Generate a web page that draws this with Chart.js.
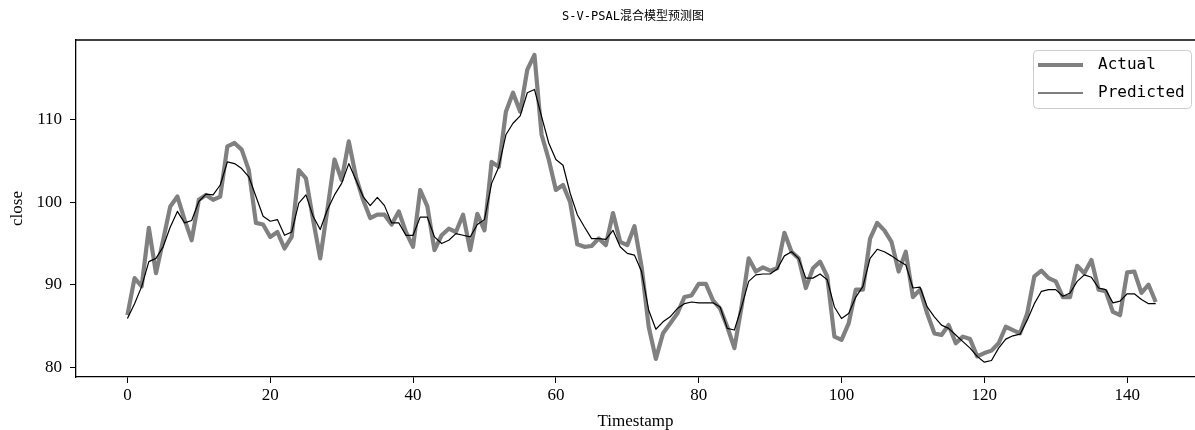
<!DOCTYPE html>
<html><head><meta charset="utf-8">
<script src="https://cdn.jsdelivr.net/npm/chart.js@4.4.0/dist/chart.umd.min.js"></script>
<style>html,body{margin:0;padding:0;background:#fff;}#wrap{width:1195px;height:430px;}</style>
</head><body><div id="wrap"><canvas id="c" width="1195" height="430"></canvas></div>
<script>
const chartTitle = 'S-V-PSAL混合模型预测图';
const xAxisTitle = 'Timestamp';
const yAxisTitle = 'close';
const seriesNames = ['Actual', 'Predicted'];
const xTicks = [0, 20, 40, 60, 80, 100, 120, 140];
const yTicks = [80, 90, 100, 110];
const timestamps = [
  0,1,2,3,4,5,6,7,8,9,10,11,12,13,14,15,16,17,18,19,
  20,21,22,23,24,25,26,27,28,29,30,31,32,33,34,35,36,37,38,39,
  40,41,42,43,44,45,46,47,48,49,50,51,52,53,54,55,56,57,58,59,
  60,61,62,63,64,65,66,67,68,69,70,71,72,73,74,75,76,77,78,79,
  80,81,82,83,84,85,86,87,88,89,90,91,92,93,94,95,96,97,98,99,
  100,101,102,103,104,105,106,107,108,109,110,111,112,113,114,115,116,117,118,119,
  120,121,122,123,124,125,126,127,128,129,130,131,132,133,134,135,136,137,138,139,
  140,141,142,143,144
];
const actual = [
  86.3,90.8,89.8,96.9,91.4,95.4,99.5,100.7,97.9,95.4,
  100.3,100.9,100.3,100.7,106.8,107.2,106.4,103.9,97.5,97.3,
  95.8,96.4,94.4,95.8,103.9,102.9,97.9,93.2,99.1,105.2,
  102.7,107.4,103.1,100.3,98.1,98.5,98.5,97.3,98.9,96.4,
  94.6,101.5,99.5,94.2,96.0,96.8,96.4,98.5,94.2,98.6,
  96.6,104.9,104.3,111.0,113.3,111.0,116.1,117.9,108.2,105.2,
  101.5,102.1,100.0,94.9,94.6,94.7,95.6,94.8,98.7,95.2,
  94.8,97.1,92.2,84.9,81.0,84.1,85.3,86.5,88.5,88.7,
  90.1,90.1,88.1,87.1,84.9,82.3,87.3,93.2,91.6,92.1,
  91.7,92.0,96.3,94.0,93.2,89.6,92.0,92.8,91.0,83.7,
  83.3,85.3,89.4,89.4,95.6,97.5,96.6,95.2,91.6,94.0,
  88.5,89.4,86.5,84.1,83.9,85.1,82.9,83.7,83.4,81.3,
  81.7,82.0,82.9,84.9,84.5,84.1,86.5,91.0,91.7,90.8,
  90.4,88.5,88.5,92.3,91.4,93.0,89.4,89.2,86.7,86.3,
  91.5,91.6,89.0,90.0,87.9
];
const predicted = [
  85.9,87.7,89.8,92.8,93.2,94.6,97.0,98.9,97.5,97.8,
  100.1,101.0,100.9,102.1,104.9,104.7,104.1,103.1,100.7,98.3,
  97.7,97.9,96.0,96.4,99.9,100.9,98.3,96.7,99.1,100.9,
  102.3,104.7,102.7,100.7,99.6,100.6,99.6,97.5,97.5,96.0,
  96.0,98.2,98.2,95.8,95.0,95.4,96.2,96.0,95.8,97.3,
  97.9,102.3,104.3,108.2,109.6,110.5,113.3,113.7,110.4,107.2,
  105.2,104.5,101.1,98.5,97.0,95.6,95.6,95.5,96.6,94.6,
  93.8,93.6,91.6,86.9,84.6,85.5,86.1,87.1,87.7,87.9,
  87.8,87.8,87.8,87.3,84.7,84.5,87.3,90.4,91.2,91.3,
  91.3,91.9,93.5,94.0,93.2,90.8,90.8,91.3,90.6,87.3,
  85.9,86.5,88.5,89.8,93.2,94.3,94.0,93.5,92.9,92.4,
  89.6,89.7,87.3,86.1,85.1,84.7,83.9,83.1,82.3,81.3,
  80.6,80.8,82.3,83.4,83.8,84.0,85.7,87.7,89.2,89.4,
  89.4,88.6,89.0,90.4,91.2,90.9,89.6,89.4,87.8,88.0,
  88.9,88.9,88.2,87.7,87.7
];

const toPoints = arr => timestamps.map((t, i) => ({x: t, y: arr[i]}));

const serif = "'Liberation Serif', 'Times New Roman', serif";
const mono = "'DejaVu Sans Mono', 'Noto Sans CJK SC', monospace";

const framePlugin = {
  id: 'frame',
  afterDraw(chart) {
    const {ctx, chartArea: a} = chart;
    ctx.save();
    // top spine
    ctx.strokeStyle = '#000';
    ctx.lineWidth = 1.3;
    ctx.beginPath();
    ctx.moveTo(a.left, a.top);
    ctx.lineTo(a.right, a.top);
    ctx.stroke();
    // title
    ctx.fillStyle = '#000';
    ctx.font = "12px " + "'DejaVu Sans Mono', 'Noto Sans CJK SC', sans-serif";
    ctx.textAlign = 'center';
    ctx.textBaseline = 'middle';
    ctx.fillText(chartTitle, 633, 17);
    // legend
    const bx = 1033, by = 50, bw = 158, bh = 58;
    ctx.fillStyle = 'rgba(255,255,255,0.8)';
    ctx.strokeStyle = '#cccccc';
    ctx.lineWidth = 1;
    ctx.beginPath();
    ctx.roundRect(bx + 0.5, by + 0.5, bw, bh, 4);
    ctx.fill();
    ctx.stroke();
    ctx.font = "16px " + mono;
    ctx.textAlign = 'left';
    chart.data.datasets.forEach((ds, i) => {
      const yy = by + 15 + i * 28;
      ctx.strokeStyle = ds.borderColor;
      ctx.lineWidth = ds.borderWidth;
      ctx.beginPath();
      ctx.moveTo(bx + 5, yy);
      ctx.lineTo(bx + 50, yy);
      ctx.stroke();
      ctx.fillStyle = '#000';
      ctx.fillText(ds.label, bx + 65, yy);
    });
    ctx.restore();
  }
};

new Chart(document.getElementById('c'), {
  type: 'line',
  data: {
    datasets: [
      {label: seriesNames[0], data: toPoints(actual), borderColor: '#808080', borderWidth: 4.2,
       pointRadius: 0, tension: 0, borderJoinStyle: 'round', order: 1},
      {label: seriesNames[1], data: toPoints(predicted), borderColor: '#000000', borderWidth: 1.2,
       pointRadius: 0, tension: 0, borderJoinStyle: 'round', order: 0}
    ]
  },
  options: {
    responsive: false,
    devicePixelRatio: 1,
    animation: false,
    layout: {padding: {top: 40, left: 0, right: 0, bottom: 0}},
    plugins: {legend: {display: false}, title: {display: false}, tooltip: {enabled: false}},
    scales: {
      x: {
        type: 'linear', min: -7.2, max: 149.5,
        afterFit(s) { s.height = 53; },
        afterBuildTicks(s) { s.ticks = xTicks.map(v => ({value: v})); },
        grid: {display: true, drawOnChartArea: false, drawTicks: true, tickLength: 6, color: '#000', lineWidth: 1},
        border: {display: true, color: '#000', width: 1.3},
        ticks: {font: {family: serif, size: 17}, color: '#000', padding: 2, maxRotation: 0, autoSkip: false},
        title: {display: true, text: xAxisTitle, font: {family: serif, size: 17, lineHeight: 1}, color: '#000', padding: {top: 0, bottom: 0}}
      },
      y: {
        type: 'linear', min: 78.8, max: 119.7,
        afterFit(s) { s.width = 76; },
        afterBuildTicks(s) { s.ticks = yTicks.map(v => ({value: v})); },
        grid: {display: true, drawOnChartArea: false, drawTicks: true, tickLength: 6, color: '#000', lineWidth: 1},
        border: {display: true, color: '#000', width: 1.3},
        ticks: {font: {family: serif, size: 17}, color: '#000', padding: 8, autoSkip: false},
        title: {display: true, text: yAxisTitle, font: {family: serif, size: 17, lineHeight: 1}, color: '#000', padding: {top: 9, bottom: 0}}
      }
    }
  },
  plugins: [framePlugin]
});
</script>
</body></html>
